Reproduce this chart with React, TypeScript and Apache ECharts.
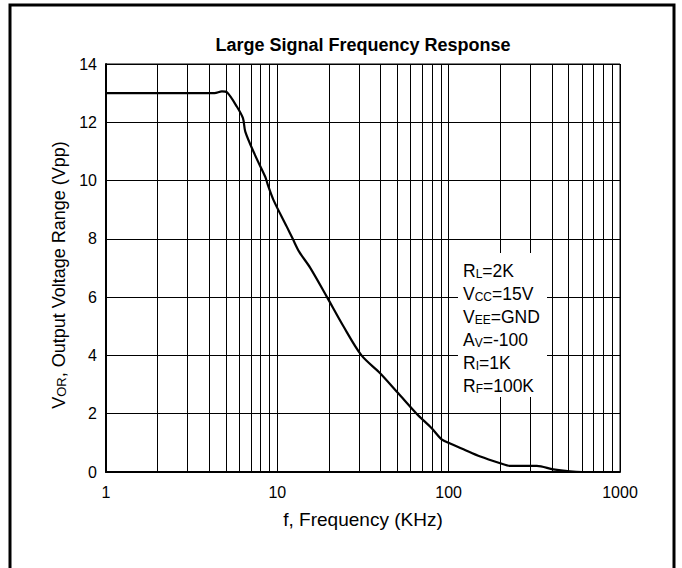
import React, { useEffect, useRef } from "react";
import * as echarts from "echarts";

const titleText = "Large Signal Frequency Response";
const xAxisName = "f, Frequency (KHz)";
const yAxisNameRich = "{a|V}{b|OR}{a|, Output Voltage Range (Vpp)}";

const freqKHz = [
  1, 2, 4.3, 4.75, 5.1, 5.8, 6.3, 6.5, 7.4, 8.5, 8.8, 9.5, 11.35, 12.3, 13.4,
  15.5, 19.5, 24.3, 31, 39.8, 50.8, 65, 79.6, 91, 102, 122, 153, 200, 228, 327,
  408, 510, 600, 1000,
];
const voltageVpp = [
  13, 13, 13, 13.06, 13.02, 12.54, 12.14, 11.68, 10.88, 10.13, 9.85, 9.33, 8.42,
  8.0, 7.56, 7.02, 6.0, 5.0, 4.0, 3.39, 2.7, 2.0, 1.5, 1.12, 0.98, 0.78, 0.53,
  0.3, 0.21, 0.21, 0.09, 0.02, 0, 0,
];

const minorGridFreqs = [
  2, 3, 4, 5, 6, 7, 8, 9, 20, 30, 40, 50, 60, 70, 80, 90, 200, 300, 400, 500,
  600, 700, 800, 900,
];

const yMin = 0;
const yMax = 14;
const yInterval = 2;

// annotation lines: [main, subscript, rest]
const conditionLines = [
  ["R", "L", "=2K"],
  ["V", "CC", "=15V"],
  ["V", "EE", "=GND"],
  ["A", "V", "=-100"],
  ["R", "I", "=1K"],
  ["R", "F", "=100K"],
];

const FONT = "'Liberation Sans', Arial, sans-serif";

export default function App() {
  const ref = useRef<HTMLDivElement>(null);

  useEffect(() => {
    if (!ref.current) return;
    const chart = echarts.init(ref.current, null, { renderer: "svg" });

    const seriesData = freqKHz.map((f, i) => [f, voltageVpp[i]]);

    const annotationTexts = conditionLines.map((ln, i) => ({
      type: "text",
      x: 463,
      y: 261 + i * 22.9,
      z: 101,
      style: {
        text: `{a|${ln[0]}}{b|${ln[1]}}{a|${ln[2]}}`,
        fill: "#000",
        font: `17px ${FONT}`,
        rich: {
          a: { fontSize: 17.5, fontFamily: FONT, fill: "#000", verticalAlign: "bottom", lineHeight: 19 },
          b: { fontSize: 12, fontFamily: FONT, fill: "#000", verticalAlign: "bottom", lineHeight: 19 },
        },
      },
    }));

    const option: any = {
      animation: false,
      backgroundColor: "#fff",
      textStyle: { fontFamily: FONT },
      title: {
        text: titleText,
        left: 363,
        textAlign: "center",
        top: 36,
        padding: 0,
        textStyle: { fontSize: 18, fontWeight: "bold", color: "#000", fontFamily: FONT },
      },
      grid: {
        left: 106,
        right: 62,
        top: 64,
        bottom: 96,
        show: true,
        borderColor: "#000",
        borderWidth: 1,
        backgroundColor: "transparent",
      },
      xAxis: {
        type: "log",
        logBase: 10,
        min: 1,
        max: 1000,
        name: xAxisName,
        nameLocation: "middle",
        nameGap: 38,
        nameTextStyle: { fontSize: 19, color: "#000", fontFamily: FONT },
        axisLine: { show: true, lineStyle: { color: "#000", width: 2 } },
        axisTick: { show: true, inside: true, length: 6, lineStyle: { color: "#000" } },
        axisLabel: {
          color: "#000",
          fontSize: 16,
          margin: 12,
          fontFamily: FONT,
          formatter: (v: number) => String(Math.round(v)),
        },
        splitLine: { show: true, lineStyle: { color: "#000", width: 1 } },
      },
      yAxis: {
        type: "value",
        min: yMin,
        max: yMax,
        interval: yInterval,
        name: yAxisNameRich,
        nameLocation: "middle",
        nameGap: 34,
        nameTextStyle: {
          color: "#000",
          fontFamily: FONT,
          padding: [0, 14, 0, 0],
          rich: {
            a: { fontSize: 18, fontFamily: FONT, color: "#000", verticalAlign: "bottom", lineHeight: 20 },
            b: { fontSize: 13, fontFamily: FONT, color: "#000", verticalAlign: "bottom", lineHeight: 20 },
          },
        },
        axisLine: { show: true, lineStyle: { color: "#000", width: 2 } },
        axisTick: { show: true, inside: true, length: 6, lineStyle: { color: "#000" } },
        axisLabel: { color: "#000", fontSize: 16, margin: 9, fontFamily: FONT },
        splitLine: { show: true, lineStyle: { color: "#000", width: 1 } },
      },
      series: [
        {
          type: "line",
          data: seriesData,
          showSymbol: false,
          symbol: "none",
          smooth: 0.3,
          lineStyle: { color: "#000", width: 2.2 },
          z: 5,
          markLine: {
            silent: true,
            symbol: ["none", "none"],
            label: { show: false },
            lineStyle: { color: "#000", width: 1, type: "solid" },
            emphasis: { disabled: true },
            data: minorGridFreqs.map((f) => ({ xAxis: f })),
            z: 1,
          },
        },
      ],
      graphic: [
        {
          type: "rect",
          z: 100,
          shape: { x: 458, y: 253, width: 89, height: 144 },
          style: { fill: "#fff", stroke: "none" },
        },
        ...annotationTexts,
        {
          type: "rect",
          z: 100,
          shape: { x: 10, y: 5, width: 664, height: 580 },
          style: { fill: "none", stroke: "#000", lineWidth: 3 },
        },
      ],
    };

    chart.setOption(option);
    return () => chart.dispose();
  }, []);

  return (
    <div
      ref={ref}
      style={{ position: "absolute", left: 0, top: 0, width: 682, height: 568, background: "#fff" }}
    />
  );
}
